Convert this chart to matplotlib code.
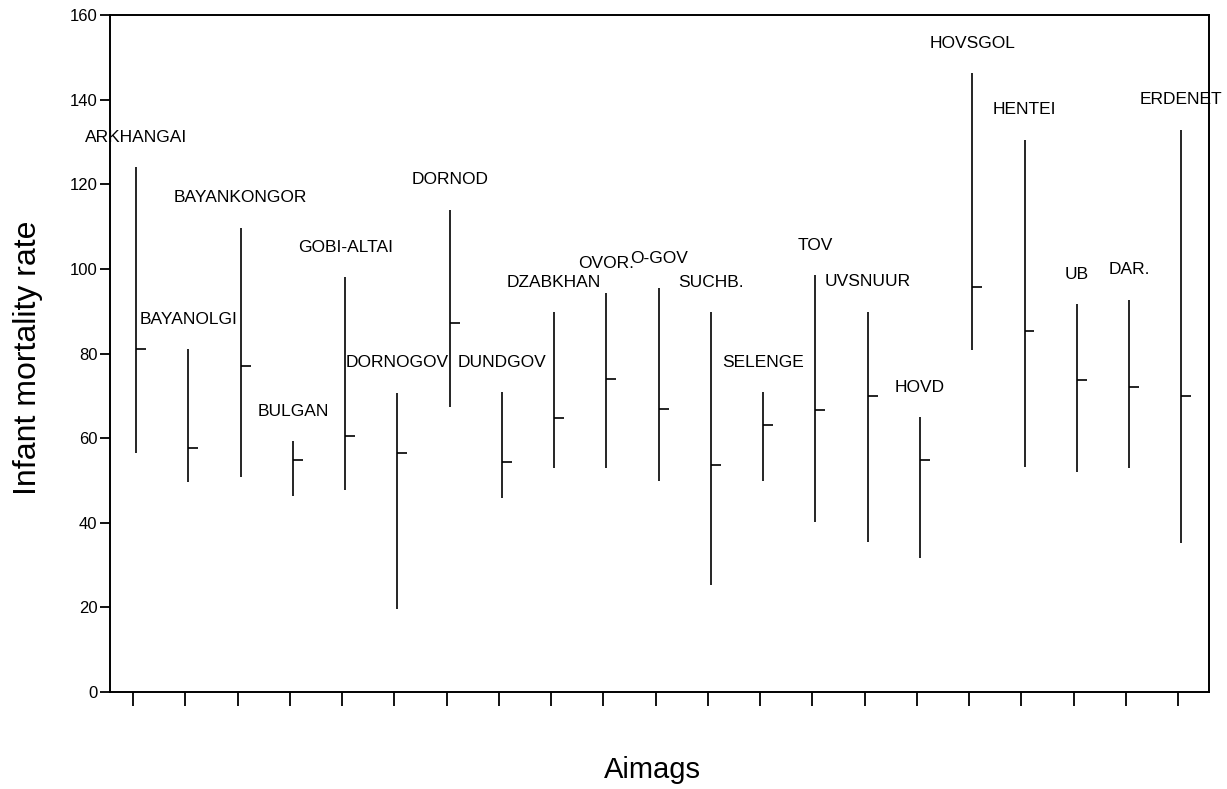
import matplotlib
matplotlib.use("Agg")
import matplotlib.pyplot as plt
import numpy as np

aimags = ["ARKHANGAI", "BAYANOLGI", "BAYANKONGOR", "BULGAN", "GOBI-ALTAI",
          "DORNOGOV", "DORNOD", "DUNDGOV", "DZABKHAN", "OVOR.", "O-GOV",
          "SUCHB.", "SELENGE", "TOV", "UVSNUUR", "HOVD", "HOVSGOL", "HENTEI",
          "UB", "DAR.", "ERDENET"]
high = [124, 81, 109.7, 59.3, 98, 70.7, 114, 70.9, 89.8, 94.3, 95.5,
        89.8, 70.9, 98.5, 89.9, 65, 146.3, 130.5, 91.7, 92.7, 132.9]
low = [56.5, 49.6, 50.8, 46.3, 47.8, 19.6, 67.4, 45.9, 53, 53, 49.9,
       25.3, 49.9, 40.2, 35.5, 31.7, 80.8, 53.2, 52, 53, 35.2]
close = [81, 57.7, 77, 54.8, 60.5, 56.5, 87.2, 54.4, 64.8, 74, 66.9,
         53.7, 63.1, 66.7, 70, 54.8, 95.8, 85.2, 73.8, 72.2, 70]
yticks = [0, 20, 40, 60, 80, 100, 120, 140, 160]

plt.rcParams['font.family'] = ['Liberation Sans', 'DejaVu Sans']

W, H = 1227, 789
fig = plt.figure(figsize=(W/100, H/100), dpi=100)
ax = fig.add_axes([110/W, 1-692/H, (1209-110)/W, (692-15)/H])

x = np.arange(len(aimags))
ax.vlines(x, low, high, color='black', linewidth=1.2)
ax.hlines(close, x, x + 0.19, color='black', linewidth=1.2)

for xi, hi, name in zip(x, high, aimags):
    ax.annotate(name, xy=(xi, hi), xytext=(0, 21.5), textcoords='offset points',
                ha='center', va='center', fontsize=12.5, color='black')

ax.set_xlim(-0.5, 20.53)
ax.set_ylim(0, 160)
ax.set_xticks(x - 0.06)
ax.set_xticklabels([])
ax.set_yticks(yticks)
ax.set_yticklabels([str(v) for v in yticks], fontsize=12)
ax.tick_params(axis='x', direction='out', length=10, width=1.3)
ax.tick_params(axis='y', direction='out', length=7, width=1.3, pad=2)
for s in ax.spines.values():
    s.set_linewidth(1.4)

fig.text(28/W, 1-358/H, "Infant mortality rate", rotation=90,
         ha='center', va='center', fontsize=23)
fig.text(652/W, 1-770/H, "Aimags", ha='center', va='center', fontsize=21)

fig.savefig("out.png", dpi=100)
